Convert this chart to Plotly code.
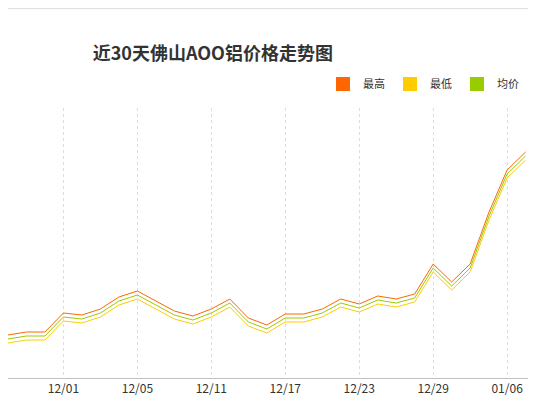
import plotly.graph_objects as go

dates = ["11/26", "11/27", "11/28", "12/01", "12/02", "12/03", "12/04", "12/05",
         "12/08", "12/09", "12/10", "12/11", "12/12", "12/15", "12/16", "12/17",
         "12/18", "12/19", "12/22", "12/23", "12/24", "12/25", "12/26", "12/29",
         "12/30", "12/31", "01/05", "01/06", "01/07"]
high = [13015, 13030, 13030, 13125, 13115, 13145, 13205, 13235, 13185, 13135,
        13110, 13145, 13195, 13100, 13065, 13120, 13120, 13145, 13195, 13170,
        13210, 13195, 13220, 13370, 13280, 13370, 13625, 13840, 13930]
low = [12975, 12990, 12990, 13085, 13075, 13105, 13165, 13195, 13145, 13095,
       13070, 13105, 13155, 13060, 13025, 13080, 13080, 13105, 13155, 13130,
       13170, 13155, 13180, 13330, 13240, 13330, 13585, 13800, 13890]
avg = [(h + l) / 2 for h, l in zip(high, low)]
tick_labels = ["12/01", "12/05", "12/11", "12/17", "12/23", "12/29", "01/06"]

fig = go.Figure()
for name, ys, col in [("最高", high, "#ff6600"), ("最低", low, "#ffcc00"), ("均价", avg, "#99cc00")]:
    fig.add_trace(go.Scatter(x=dates, y=ys, name=name, mode="lines",
                             line=dict(color=col, width=1), showlegend=False))
# square legend markers
for name, col in [("最高", "#ff6600"), ("最低", "#ffcc00"), ("均价", "#99cc00")]:
    fig.add_trace(go.Scatter(x=[None], y=[None], name=name, mode="markers",
                             marker=dict(symbol="square", size=14, color=col)))

fig.update_xaxes(type="category", range=[0, 28.4], tickvals=tick_labels, automargin=False,
                 showgrid=True, gridcolor="#dddddd", griddash="3px,3px", gridwidth=1,
                 showline=True, linecolor="#c0c0c0", ticks="",
                 tickfont=dict(size=12, color="#333"), zeroline=False)
fig.update_yaxes(range=[12800, 14150], visible=False, automargin=False)
fig.update_layout(
    width=536, height=401,
    title=dict(text="<b>近30天佛山AOO铝价格走势图</b>", x=0.158, xanchor="left",
               y=0.885, yanchor="middle",
               font=dict(size=18, color="#333", family="Noto Sans CJK SC")),
    legend=dict(orientation="h", x=0.6, y=1.035, yanchor="bottom",
                font=dict(size=11, color="#333", family="Noto Sans CJK SC"),
                itemwidth=30, tracegroupgap=0),
    margin=dict(l=0, r=11, t=100, b=31),
    plot_bgcolor="white", paper_bgcolor="white",
    shapes=[dict(type="line", xref="paper", yref="paper", x0=0, x1=1.03, y0=1.368, y1=1.368,
                 line=dict(color="#dddddd", width=1))],
    font=dict(family="Noto Sans CJK SC"),
)
fig.write_html("out.html")
